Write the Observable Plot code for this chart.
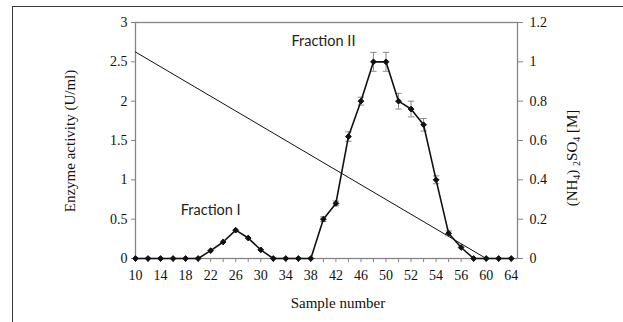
<!DOCTYPE html>
<html>
<head>
<meta charset="utf-8">
<script src="https://cdn.jsdelivr.net/npm/d3@7"></script>
<script src="https://cdn.jsdelivr.net/npm/@observablehq/plot@0.6"></script>
<style>
  html, body { margin: 0; padding: 0; background: #fff; }
  #wrap { position: relative; width: 623px; height: 322px; overflow: hidden; }
  #outer { position: absolute; left: 12px; top: 6px; width: 700px; height: 400px;
           border-left: 1.3px solid #3a3a3a; border-top: 1.3px solid #3a3a3a; pointer-events: none; }
</style>
</head>
<body>
<div id="wrap"><div id="outer"></div></div>
<script>
// Sample numbers (categories); every second one is labelled on the axis
const samples = [10,12,14,16,18,20,22,24,26,28,30,32,34,36,38,40,42,44,46,48,50,51,52,53,54,55,56,58,60,62,64];
// Enzyme activity (U/ml)
const enzyme  = [0,0,0,0,0,0,0.1,0.21,0.36,0.26,0.11,0,0,0,0,0.5,0.7,1.55,2.0,2.5,2.5,2.0,1.9,1.7,1.0,0.32,0.14,0,0,0,0];
// Error (± U/ml)
const errors  = [0,0,0,0,0,0,0,0,0,0,0,0,0,0,0,0.03,0.03,0.06,0.05,0.12,0.12,0.1,0.1,0.08,0.05,0.03,0,0,0,0,0];
// (NH4)2SO4 gradient, M
const saltSamples = [10, 60];
const saltMolar   = [1.05, 0];
// Axis ticks
const enzymeTicks = [0,0.5,1,1.5,2,2.5,3];
const saltTicks   = [0,0.2,0.4,0.6,0.8,1,1.2];
const k = 3 / 1.2; // right axis (M) to left axis (U/ml)

const data = samples.map((s, i) => ({i, s, e: enzyme[i], err: errors[i]}));
const errData = data.filter(d => d.err > 0);
const salt = saltSamples.map((s, j) => ({i: samples.indexOf(s), m: saltMolar[j]}));

const capSymbol = {draw(ctx, size) { const w = 3.2; ctx.moveTo(-w, 0); ctx.lineTo(w, 0); }};
const gray = "#858585";
const serif = "Liberation Serif, Times New Roman, serif";
const sans = "Lato, Open Sans, sans-serif";

const svg = Plot.plot({
  width: 623, height: 322,
  marginLeft: 135, marginRight: 106, marginTop: 22, marginBottom: 64,
  style: {fontFamily: serif, fontSize: "14px", background: "transparent", overflow: "visible"},
  x: {domain: [0, 30.5], axis: null},
  y: {domain: [0, 3], axis: null},
  marks: [
    Plot.frame({stroke: gray, strokeWidth: 1.3}),
    Plot.axisY({anchor: "left", ticks: enzymeTicks, tickSize: 4, tickPadding: 4, stroke: gray, fill: "#111",
                tickFormat: d => String(d), label: null, fontSize: 14}),
    Plot.axisY({anchor: "right", ticks: saltTicks.map(v => v * k), tickSize: 5, tickPadding: 7, stroke: gray, fill: "#111",
                tickFormat: d => String(Math.round(d / k * 10) / 10), label: null, fontSize: 14}),
    Plot.axisX({ticks: d3.range(samples.length), tickSize: 4, tickPadding: 8, stroke: gray, fill: "#111",
                tickFormat: i => (i % 2 === 0 ? String(samples[i]) : ""), label: null, fontSize: 14}),
    Plot.line(salt, {x: "i", y: d => d.m * k, stroke: "#111", strokeWidth: 1}),
    Plot.ruleX(errData, {x: "i", y1: d => d.e - d.err, y2: d => d.e + d.err, stroke: "#8a8a8a", strokeWidth: 1}),
    Plot.dot(errData, {x: "i", y: d => d.e - d.err, symbol: capSymbol, r: 3, stroke: "#8a8a8a", strokeWidth: 1}),
    Plot.dot(errData, {x: "i", y: d => d.e + d.err, symbol: capSymbol, r: 3, stroke: "#8a8a8a", strokeWidth: 1}),
    Plot.line(data, {x: "i", y: "e", stroke: "#111", strokeWidth: 1.6}),
    Plot.dot(data, {x: "i", y: "e", symbol: "diamond2", r: 2.6, fill: "#111", stroke: "#111", strokeWidth: 1}),
    Plot.text([data[8]], {x: "i", y: "e", text: () => "Fraction I", dx: -25, dy: -20,
               fontFamily: sans, fontSize: 14.5, fill: "#222"}),
    Plot.text([data[19]], {x: "i", y: "e", text: () => "Fraction II", dx: -50, dy: -20,
               fontFamily: sans, fontSize: 14.5, fill: "#222"})
  ]
});

const s = d3.select(svg);
s.append("text")
  .attr("transform", "translate(72,141) rotate(-90)")
  .attr("text-anchor", "middle").attr("dominant-baseline", "middle")
  .attr("font-family", serif).attr("font-size", 15).attr("fill", "#111")
  .text("Enzyme activity (U/ml)");
const rt = s.append("text")
  .attr("transform", "translate(574,158) rotate(-90)")
  .attr("text-anchor", "middle").attr("dominant-baseline", "middle")
  .attr("font-family", serif).attr("font-size", 15).attr("fill", "#111");
rt.append("tspan").text("(NH");
rt.append("tspan").attr("font-size", 10).attr("dy", 4).text("4");
rt.append("tspan").attr("dy", -4).text(") ");
rt.append("tspan").attr("font-size", 10).attr("dy", 4).text("2");
rt.append("tspan").attr("dy", -4).text("SO");
rt.append("tspan").attr("font-size", 10).attr("dy", 4).text("4");
rt.append("tspan").attr("dy", -4).text(" [M]");
s.append("text")
  .attr("x", 338).attr("y", 305)
  .attr("text-anchor", "middle").attr("dominant-baseline", "middle")
  .attr("font-family", serif).attr("font-size", 15).attr("fill", "#111")
  .text("Sample number");

svg.style.position = "absolute";
svg.style.left = "0px";
svg.style.top = "0px";
document.getElementById("wrap").appendChild(svg);
</script>
</body>
</html>
